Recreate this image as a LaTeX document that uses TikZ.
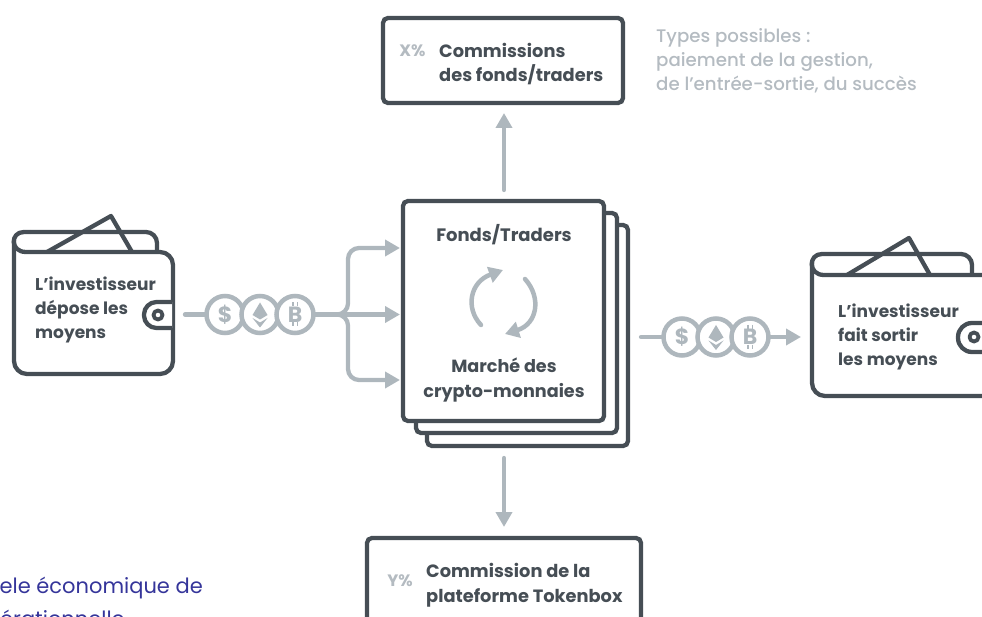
\documentclass[tikz,border=0pt]{standalone}
\usepackage{fontspec}
\setmainfont{Poppins}
\newfontfamily\notefont{Poppins}[UprightFont=* Medium]
\usetikzlibrary{arrows.meta,calc}
\definecolor{ink}{HTML}{464E55}
\definecolor{soft}{HTML}{AEB7BD}
\definecolor{softtext}{HTML}{B4BBC1}
\definecolor{navy}{HTML}{35359A}
\tikzset{
  x=1pt,y=-1pt,
  box/.style={draw=ink,line width=4.3pt,rounded corners=5pt,fill=white},
  wal/.style={draw=ink,line width=4.3pt,line join=round},
  flow/.style={draw=soft,line width=4.3pt,line cap=round},
  flowhead/.style={flow,-{Triangle[length=15pt,width=16pt]}},
  coin/.style={circle,draw=soft,line width=4.5pt,fill=white,minimum size=37pt,inner sep=0pt,text=soft},
  coinglyph/.style={text=soft,font=\bfseries\fontsize{22}{22}\selectfont,inner sep=0pt},
  label/.style={text=ink,font=\fontsize{17.5}{24.5}\selectfont\bfseries,align=left,anchor=west,inner sep=0pt},
  walletlabel/.style={label,font=\fontsize{17}{24}\selectfont\bfseries},
  labelc/.style={label,align=center,anchor=center},
  pct/.style={text=softtext,font=\fontsize{16.5}{17}\selectfont\bfseries,inner sep=0pt},
  note/.style={text=softtext,font=\notefont\fontsize{18.2}{24}\selectfont,align=left,anchor=north west,inner sep=0pt},
  captxt/.style={text=navy,font=\fontsize{21}{25}\selectfont,inner sep=0pt},
}
\newcommand{\ethglyph}[1]{%
  \fill[soft] ($(#1)+(0,-12)$) -- ($(#1)+(7.5,0.5)$) -- ($(#1)+(0,5)$) -- ($(#1)+(-7.5,0.5)$) -- cycle;
  \fill[soft] ($(#1)+(-7.5,3.5)$) -- ($(#1)+(0,8)$) -- ($(#1)+(7.5,3.5)$) -- ($(#1)+(0,13)$) -- cycle;
}
\newcommand{\btcticks}[1]{%
  \draw[soft,line width=1.8pt] ($(#1)+(-2,-12)$) -- ++(0,4) ($(#1)+(2.5,-12)$) -- ++(0,4)
     ($(#1)+(-2,8)$) -- ++(0,4) ($(#1)+(2.5,8)$) -- ++(0,4);
}
\begin{document}
\begin{tikzpicture}
\useasboundingbox (0,0) rectangle (982,617);
\clip (0,0) rectangle (982,617);

% left wallet
\draw[wal,rounded corners=11pt] (157,253) -- (157,232) -- (30,232);
\draw[wal] (30,232) -- (24,232) .. controls (10,232) and (10,252) .. (26,252);
\draw[wal] (47,252) -- (111,216) -- (132,252);
\draw[wal,rounded corners=13pt] (14,240) -- (14,374) -- (173,374) -- (173,252) -- (26,252);
\draw[wal,fill=white,rounded corners=12.5pt] (172,302) -- (144,302) -- (144,328) -- (172,328);
\draw[wal,line width=3.8pt] (158,315) circle (4.5);
\node[walletlabel] (walletL) at (35,310) {L’investisseur\\dépose les\\moyens};
\coordinate (walletLout) at (185,314.5);

% right wallet
\draw[wal,rounded corners=11pt] (972,276) -- (972,254) -- (830,254);
\draw[wal] (830,254) -- (822,254) .. controls (808,254) and (808,275) .. (824,275);
\draw[wal] (847,275) -- (909,238) -- (930,275);
\draw[wal,rounded corners=13pt] (812,262) -- (812,396) -- (1005,396) -- (1005,275) -- (824,275);
\draw[wal,fill=white,rounded corners=14pt] (995,323) -- (958,323) -- (958,352) -- (995,352);
\draw[wal,line width=3.8pt] (974,337) circle (4.5);
\node[walletlabel] (walletR) at (838,337) {L’investisseur\\fait sortir\\les moyens};
\coordinate (walletRin) at (801,337);
\coordinate (outstart) at (641,337);

% stacked boxes
\draw[box] (427,225) rectangle (628,446);
\draw[box] (416,213) rectangle (617,433);
\node[box,minimum width=201pt,minimum height=220pt,inner sep=0pt] (market) at (503.5,311) {};
\node[labelc,font=\fontsize{18}{24}\selectfont\bfseries] (t1) at (504,235) {Fonds/Traders};
\node[labelc,font=\fontsize{17.6}{25}\selectfont\bfseries] (t2) at (504,380) {Marché des\\crypto-monnaies};

% cycle
\draw[flow,line width=4.5pt,-{Triangle[length=14pt,width=16pt]}] (481,325) .. controls (465,308) and (470,282) .. (503,270);
\draw[flow,line width=4.5pt,-{Triangle[length=14pt,width=16pt]}] (525,279) .. controls (542,298) and (537,324) .. (505,334);

% top & bottom boxes
\node[box,minimum width=240pt,minimum height=85pt,inner sep=0pt] (top) at (503,60.5) {};
\node[pct] (xp) at (412.5,51) {X\%};
\node[label,font=\fontsize{17.8}{24}\selectfont\bfseries] (t3) at (439,64) {Commissions\\des fonds/traders};
\node[note] (n) at (656,28) {Types possibles :\\paiement de la gestion,\\de l’entrée-sortie, du succès};
\node[box,minimum width=274pt,minimum height=120pt,inner sep=0pt] (bot) at (504,598) {};
\node[pct] (yp) at (400,581) {Y\%};
\node[label,font=\fontsize{17.8}{25}\selectfont\bfseries] (t4) at (426,585) {Commission de la\\plateforme Tokenbox};

% arrows top / bottom
\coordinate (upfrom) at (504,190);
\coordinate (upto) at (504,113);
\coordinate (downfrom) at (504,458);
\coordinate (downto) at (504,527);
\draw[flowhead] (upfrom) -- (upto);
\draw[flowhead] (downfrom) -- (downto);

% left coins
\coordinate (s1) at (225,314.5);
\coordinate (s2) at (260,314.5);
\coordinate (s3) at (295,314.5);
\coordinate (j) at (348,314.5);
\draw[flow] (walletLout) -- (s1);
\draw[flow] (s3) -- (j);
\node[coin] (c1) at (s1) {};
\node[coin] (c2) at (s2) {};
\node[coin] (c3) at (s3) {};
\node[coinglyph] (g1) at (s1) {\$};
\ethglyph{c2}
\node[coinglyph] (g3) at (s3) {B};
\btcticks{s3}
% branches
\coordinate (b1) at (400,248);
\coordinate (b2) at (400,314.5);
\coordinate (b3) at (400,380);
\draw[flowhead] (j) -- (b2);
\draw[flowhead,rounded corners=11pt] (342,314.5) -- (j) -- (j |- b1) -- (b1);
\draw[flowhead,rounded corners=11pt] (342,314.5) -- (j) -- (j |- b3) -- (b3);

% right coins
\coordinate (r1) at (682,337);
\coordinate (r2) at (716,337);
\coordinate (r3) at (750,337);
\draw[flow] (outstart) -- (r1);
\draw[flowhead] (r3) -- (walletRin);
\node[coin] (d1) at (r1) {};
\node[coin] (d2) at (r2) {};
\node[coin] (d3) at (r3) {};
\node[coinglyph] (h1) at (r1) {\$};
\ethglyph{d2}
\node[coinglyph] (h3) at (r3) {B};
\btcticks{r3}

% caption
\node[captxt,anchor=east] (cap) at (203,588) {ele économique de};
\node[captxt,anchor=west] (cap2) at (0,618) {érationnelle};
\end{tikzpicture}
\end{document}
